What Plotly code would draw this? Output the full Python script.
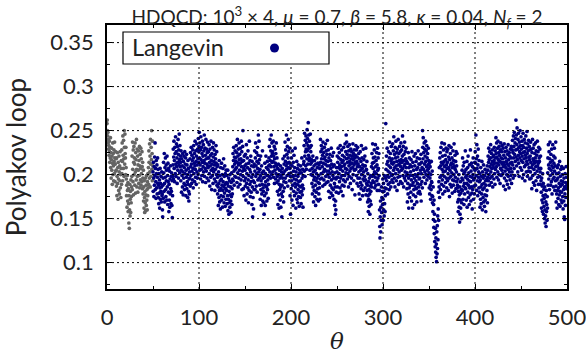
import plotly.graph_objects as go

# Polyakov loop values (x1000), one row per 10 units of Langevin time theta
burnin_rows = [
    [258,262,250,244,248,236,240,229,233,222,238,226,214,231,219,242,208,225,196,217,230,205,221,189,213,236,200,224,210,193,228,215,201,237,219,192,212,226,204,218],
    [205,187,219,176,198,225,190,208,172,214,195,182,221,203,178,210,193,226,185,200,174,207,216,189,228,201,236,215,193,244,222,207,239,218,198,250,231,212,246,224],
    [219,200,231,208,195,176,188,163,199,182,170,191,158,184,167,145,176,139,160,189,153,172,181,157,194,168,175,186,198,221,183,237,206,192,228,177,214,232,200,219],
    [212,188,236,203,179,225,217,194,240,206,186,229,198,221,180,211,205,227,190,216,199,232,185,210,223,194,207,230,188,218,201,192,226,209,184,214,196,178,205,170],
    [186,162,193,174,157,181,168,196,159,177,188,165,199,171,183,160,192,176,201,185,208,189,227,214,196,235,203,221,186,240,212,198,231,217,250,206,224,193,238,210],
]
langevin_rows = [
    [203,181,214,196,175,209,188,220,199,236,183,207,192,173,216,201,185,211,178,197,219,190,206,174,188,167,201,179,194,162,185,207,172,190,181,198,169,186,203,176],
    [178,160,152,188,196,173,214,202,181,224,190,169,208,197,219,183,175,211,193,205,171,221,186,199,166,213,192,180,207,158,189,171,204,163,195,178,210,184,167,198],
    [181,202,165,193,151,176,198,211,229,195,220,238,207,216,192,231,224,201,243,212,198,226,235,209,219,190,232,214,205,240,223,196,228,211,246,217,202,233,209,221],
    [214,193,227,205,180,218,199,210,186,224,203,177,215,196,221,190,208,183,226,201,212,188,219,176,205,197,223,184,211,192,200,174,216,189,207,181,170,195,178,203],
    [196,218,187,225,209,199,231,212,190,222,204,216,194,228,207,185,219,233,201,213,224,192,210,238,206,197,227,215,189,221,235,203,211,196,229,218,200,241,214,226],
    [232,248,219,205,236,211,228,195,243,217,206,231,199,224,214,238,192,221,209,234,203,227,216,245,198,213,230,207,222,191,240,218,204,229,212,196,225,237,210,219],
    [208,226,193,219,234,201,214,187,229,210,222,197,238,205,216,183,224,212,199,231,207,190,220,236,203,215,228,195,211,182,223,206,218,192,233,213,200,226,188,209],
    [197,178,211,186,165,203,190,174,216,182,169,199,193,161,208,184,176,195,213,171,188,200,163,182,207,192,175,218,186,168,198,179,210,189,164,201,184,172,205,191],
    [182,199,167,190,176,205,159,187,172,196,155,181,168,193,163,200,177,186,170,157,191,175,202,166,184,178,195,209,224,193,216,231,204,188,220,212,198,227,206,215],
    [219,197,233,208,225,191,214,240,202,221,186,229,211,196,236,217,205,223,189,213,230,200,218,194,238,209,226,183,215,204,232,250,198,184,216,207,176,221,193,210],
    [205,187,223,196,171,212,234,190,201,178,219,208,185,227,194,168,213,199,182,238,206,189,216,175,203,221,192,180,210,197,166,215,186,152,200,174,193,161,209,183],
    [212,191,227,204,183,219,236,198,210,187,225,201,215,180,231,207,194,222,245,213,203,238,196,217,188,206,172,199,221,183,193,165,210,178,202,189,227,170,196,185],
    [181,204,168,155,197,176,213,188,165,201,192,221,179,208,186,170,199,215,183,194,206,173,189,210,219,198,232,211,203,240,216,196,227,209,245,221,200,236,214,224],
    [226,203,215,238,197,221,209,232,190,218,205,229,213,195,224,201,236,210,191,219,198,181,207,166,193,212,177,200,162,189,205,183,196,171,210,186,163,199,178,203],
    [152,188,207,175,196,218,181,201,169,192,212,185,221,204,237,196,215,228,191,210,245,206,223,199,232,213,187,219,240,208,226,201,214,193,230,207,176,198,155,211],
    [202,184,219,193,171,210,227,188,198,165,214,204,181,222,195,176,208,190,230,199,186,162,203,179,194,215,172,189,207,168,198,183,211,175,192,201,164,187,205,180],
    [193,174,210,186,167,202,181,219,196,177,188,206,163,199,184,212,215,233,204,247,221,198,239,226,210,244,229,206,236,218,251,227,241,212,233,259,222,245,230,216],
    [238,219,205,231,246,212,226,200,233,217,214,190,207,178,199,221,186,203,169,194,210,182,216,197,175,205,188,165,212,193,180,201,219,172,196,208,184,213,191,170],
    [199,178,211,190,185,207,172,195,240,214,226,201,233,218,196,229,209,222,187,237,213,203,225,194,218,231,206,189,220,212,235,198,216,227,204,191,223,210,239,200],
    [215,192,228,204,181,219,197,210,174,223,201,188,216,207,179,230,194,212,185,203,221,176,199,209,183,225,196,172,211,190,165,202,186,155,170,160,195,180,208,197],
    [203,221,186,214,197,230,208,179,219,201,225,192,211,185,233,206,196,217,181,209,228,199,214,188,222,204,176,216,194,231,210,187,220,199,212,235,192,207,226,202],
    [245,218,237,206,223,195,214,232,201,219,186,227,210,198,234,215,204,222,190,212,229,207,218,196,226,213,183,221,208,235,200,217,224,193,211,228,205,219,177,214],
    [222,206,233,213,199,228,215,190,220,209,231,196,212,187,224,203,178,218,196,209,172,226,191,205,215,184,233,200,188,219,207,176,211,195,229,182,203,217,193,210],
    [198,221,185,210,194,230,177,205,206,190,215,182,188,169,201,176,158,192,172,183,164,196,178,155,187,170,199,181,166,190,209,186,224,198,213,235,193,207,219,200],
    [214,191,228,203,185,220,197,234,209,188,216,201,225,193,211,182,230,205,196,219,207,189,224,199,182,160,141,128,152,170,135,163,148,186,157,174,143,181,166,195],
    [172,148,190,160,181,153,199,167,185,158,176,196,258,206,184,221,193,212,230,199,178,215,204,189,226,197,210,183,219,237,202,191,224,208,186,216,232,199,213,194],
    [218,200,235,212,191,227,205,243,214,196,223,208,186,231,219,201,238,210,193,225,215,182,229,206,220,197,240,211,189,224,203,216,232,198,213,226,192,209,236,217],
    [205,228,214,190,221,244,207,199,232,216,186,223,210,196,237,212,203,226,193,218,230,208,199,215,184,202,169,213,190,178,225,196,162,208,185,219,174,199,211,188],
    [203,180,217,194,170,209,226,188,199,162,214,191,177,205,183,221,196,166,210,187,200,224,175,193,215,184,206,169,198,219,190,208,179,227,201,186,212,195,181,218],
    [196,212,178,205,189,223,170,201,214,192,208,185,250,231,218,242,206,225,197,236,212,229,203,221,190,238,215,200,227,209,233,194,219,205,224,211,198,230,207,216],
    [202,185,213,178,196,209,188,172,200,183,215,192,191,176,204,168,175,158,186,149,166,140,171,133,155,124,147,118,139,112,128,106,121,101,135,110,142,116,153,126],
    [161,180,148,192,186,208,174,219,197,225,183,210,231,199,214,189,236,206,194,221,178,212,203,228,187,215,198,235,209,181,222,204,191,217,230,196,211,185,226,207],
    [214,193,229,201,182,220,208,233,196,175,217,205,189,224,211,198,231,186,213,202,219,179,208,194,227,212,188,216,200,235,193,209,181,222,206,197,215,184,226,203],
    [210,192,224,185,188,169,195,158,181,172,200,163,177,146,186,155,171,192,162,179,150,183,168,196,205,182,219,194,172,210,187,201,166,214,190,178,203,185,227,197],
    [184,206,171,199,190,215,163,195,208,180,221,188,174,202,193,166,211,185,198,177,228,192,170,204,186,213,179,197,161,209,183,200,219,172,194,187,207,178,196,214],
    [205,226,188,213,245,199,218,182,234,207,193,221,176,211,229,197,203,185,216,192,180,201,163,194,172,208,186,167,198,178,215,189,160,203,183,174,196,211,169,190],
    [185,164,199,177,206,171,193,158,188,202,176,195,182,210,168,197,205,221,193,214,230,200,217,188,226,209,196,219,234,203,212,191,224,207,198,228,215,186,220,211],
    [208,222,195,216,231,201,213,189,227,206,219,242,224,209,236,197,220,213,230,203,238,217,194,225,211,232,200,222,215,190,228,207,236,219,199,214,226,205,233,212],
    [218,201,230,209,187,222,214,235,196,211,226,204,183,219,208,231,193,215,200,227,212,189,223,206,234,198,217,210,185,225,203,221,194,213,229,207,199,219,232,190],
    [214,203,228,239,211,225,196,244,219,232,207,248,223,199,236,215,241,228,262,220,245,210,234,253,217,229,203,240,222,247,213,231,198,237,226,219,250,208,233,224],
    [243,216,229,205,238,221,196,233,214,247,225,200,231,218,240,209,226,193,236,222,211,244,219,203,230,215,249,224,198,235,212,227,204,239,220,208,232,217,195,228],
    [221,203,237,214,196,229,208,184,225,211,240,199,218,230,191,216,206,234,213,188,224,201,219,236,209,193,227,215,182,222,204,238,210,197,226,213,189,231,207,219],
    [215,198,229,203,189,221,207,193,180,162,196,171,187,158,201,168,176,190,155,183,164,173,150,186,160,145,177,153,169,141,182,158,166,148,175,162,202,219,188,234],
    [211,195,226,207,183,218,237,199,214,188,223,205,192,229,210,178,216,201,234,195,208,186,221,213,197,230,204,182,219,210,193,237,187,169,201,178,194,162,208,182],
    [196,173,211,185,166,202,190,177,215,181,164,198,187,206,171,193,180,209,168,189,200,175,192,161,207,183,170,196,152,186,149,178,201,165,191,174,209,184,197,188],
]
row_span = 10  # theta units covered by each row
x_ticks = [0, 100, 200, 300, 400, 500]
y_ticks = [0.1, 0.15, 0.2, 0.25, 0.3, 0.35]
y_ticktext = ["0.1", "0.15", "0.2", "0.25", "0.3", "0.35"]
x_range = [0, 500]
y_range = [0.07, 0.37]
series_name = "Langevin"
title_text = ("HDQCD: 10<sup>3</sup> × 4, <i>μ</i> = 0.7, <i>β</i> = 5.8, "
              "<i>κ</i> = 0.04, <i>N<sub>f</sub></i> = 2")


def to_xy(rows, first_row):
    xs, ys = [], []
    for k, row in enumerate(rows):
        n = len(row)
        for j, v in enumerate(row):
            xs.append((first_row + k) * row_span + j * row_span / n)
            ys.append(v / 1000)
    return xs, ys


gx, gy = to_xy(burnin_rows, 0)
bx, by = to_xy(langevin_rows, len(burnin_rows))

FONT = "Lato"
TXT = "#222222"
NAVY = "rgb(0,0,128)"

# plot-area geometry in pixels
W, H = 586, 354
ML, MR, MT, MB = 107, 19, 25, 65
PW, PH = W - ML - MR, H - MT - MB


def px_x(p):
    return (p - ML) / PW


def px_y(p):
    return (H - MB - p) / PH


fig = go.Figure()
fig.add_trace(go.Scatter(x=gx, y=gy, mode="markers", showlegend=False,
                         marker=dict(size=3.7, color="rgb(100,100,100)", line=dict(width=0))))
fig.add_trace(go.Scatter(x=bx, y=by, mode="markers", showlegend=False,
                         marker=dict(size=3.7, color=NAVY, line=dict(width=0))))
# legend symbol only (no data points); text and frame are drawn separately
fig.add_trace(go.Scatter(x=[None], y=[None], mode="markers", name="",
                         marker=dict(size=9, color=NAVY), showlegend=True))

grid_style = dict(color="black", width=1, dash="2px,3px")
for xv in x_ticks[1:-1]:
    fig.add_shape(type="line", xref="x", yref="paper", x0=xv, x1=xv, y0=0, y1=1,
                  line=grid_style, layer="above")
for yv in y_ticks:
    fig.add_shape(type="line", xref="paper", yref="y", x0=0, x1=1, y0=yv, y1=yv,
                  line=grid_style, layer="above")

# legend frame
fig.add_shape(type="rect", xref="paper", yref="paper",
              x0=px_x(123), x1=px_x(329), y0=px_y(64), y1=px_y(32),
              line=dict(color="black", width=1.2), fillcolor="white", layer="above")
fig.add_annotation(text=series_name, xref="paper", yref="paper",
                   x=px_x(130), y=px_y(47), xanchor="left", yanchor="middle",
                   showarrow=False, font=dict(family=FONT, size=23.5, color=TXT))

axis_common = dict(showline=True, linecolor="black", linewidth=1.8, mirror="allticks",
                   ticks="inside", ticklen=5, tickcolor="black", tickwidth=1,
                   showgrid=False, zeroline=False, automargin=False,
                   ticklabeloverflow="allow",
                   tickfont=dict(family=FONT, size=22, color=TXT))

fig.update_xaxes(range=x_range, tickvals=x_ticks, **axis_common, ticklabelstandoff=8,
                 minor=dict(ticks="inside", dtick=50, ticklen=3, tickcolor="black", showgrid=False),
                 title=dict(text="<i>θ</i>", font=dict(family="DejaVu Serif", size=23, color=TXT),
                            standoff=28))
fig.update_yaxes(range=y_range, tickvals=y_ticks, ticktext=y_ticktext,
                 **axis_common, ticklabelstandoff=7,
                 minor=dict(ticks="inside", dtick=0.025, ticklen=3, tickcolor="black", showgrid=False),
                 title=dict(text="Polyakov loop", font=dict(family=FONT, size=26, color=TXT),
                            standoff=16))

fig.update_layout(
    width=W, height=H,
    margin=dict(l=ML, r=MR, t=MT, b=MB, autoexpand=False),
    paper_bgcolor="white", plot_bgcolor="white",
    title=dict(text=title_text, font=dict(family=FONT, size=19, color=TXT),
               x=px_x((ML + W - MR) / 2), xanchor="center", xref="paper",
               y=1 - 17 / H, yanchor="middle", automargin=False),
    legend=dict(x=px_x(277), y=px_y(48), xanchor="center", yanchor="middle",
                bgcolor="rgba(0,0,0,0)", borderwidth=0, itemwidth=30,
                font=dict(family=FONT, size=10, color=TXT)),
)

fig.write_html("out.html")
